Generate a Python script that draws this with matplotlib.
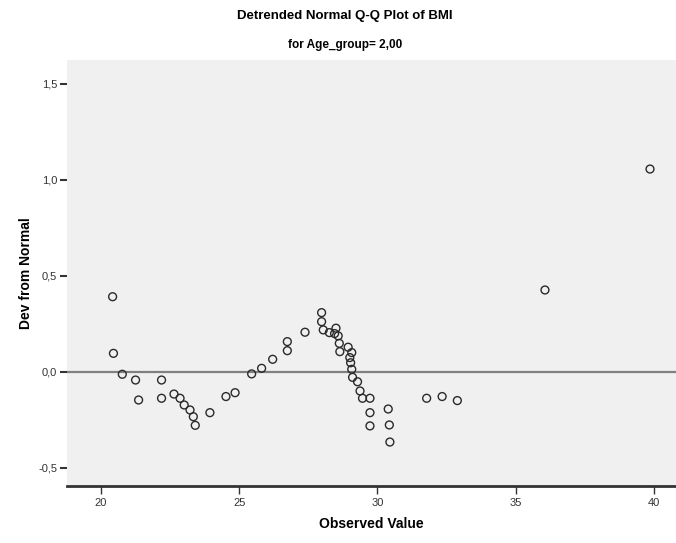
import matplotlib
matplotlib.use("Agg")
import matplotlib.pyplot as plt

plt.rcParams['font.family'] = ['Liberation Sans', 'DejaVu Sans']

# Observed BMI values and their deviation from normal
observed = [20.42, 20.45, 20.77, 21.25, 21.36, 22.19, 22.19, 22.64, 22.86, 23.01,
            23.22, 23.34, 23.41, 23.94, 24.52, 24.85, 25.45, 25.81, 26.21, 26.74,
            26.74, 27.38, 27.98, 27.98, 28.04, 28.26, 28.50, 28.58, 28.62, 28.64,
            28.94, 29.07, 29.03, 29.07, 29.10, 29.28, 29.37, 29.46, 29.73, 29.73,
            29.73, 30.39, 30.43, 30.45, 31.78, 32.34, 32.89, 36.06, 39.86,
            28.45, 29.00]
deviation = [0.392, 0.097, -0.012, -0.042, -0.146, -0.042, -0.137, -0.115, -0.137, -0.172,
             -0.198, -0.233, -0.278, -0.212, -0.128, -0.108, -0.010, 0.019, 0.066, 0.158,
             0.111, 0.207, 0.309, 0.262, 0.219, 0.205, 0.228, 0.188, 0.149, 0.106,
             0.129, 0.101, 0.048, 0.014, -0.028, -0.051, -0.099, -0.137, -0.137, -0.212,
             -0.281, -0.193, -0.276, -0.365, -0.137, -0.128, -0.149, 0.427, 1.057,
             0.200, 0.075]

x_ticks = [20, 25, 30, 35, 40]
x_tick_labels = ['20', '25', '30', '35', '40']
y_ticks = [-0.5, 0.0, 0.5, 1.0, 1.5]
y_tick_labels = ['-0,5', '0,0', '0,5', '1,0', '1,5']

fig = plt.figure(figsize=(6.76, 5.43), dpi=100)
ax = fig.add_axes([67/676, 1 - 486/543, 609/676, 426/543])
ax.set_facecolor('#f0f0f0')

ax.axhline(0, color='#808080', linewidth=1.6, zorder=1)
ax.scatter(observed, deviation, s=32, facecolors='none', edgecolors='#2a2a2a',
           linewidths=1.0, zorder=3)

ax.set_xlim(18.77, 40.8)
ax.set_ylim(-0.594, 1.625)
ax.set_xticks(x_ticks)
ax.set_xticklabels(x_tick_labels)
ax.set_yticks(y_ticks)
ax.set_yticklabels(y_tick_labels)

for side in ['top', 'right', 'left']:
    ax.spines[side].set_visible(False)
ax.spines['bottom'].set_color('#333333')
ax.spines['bottom'].set_linewidth(2.0)

ax.tick_params(axis='x', direction='out', length=6, width=1, colors='#333333',
               labelsize=8, pad=3)
ax.tick_params(axis='y', direction='out', length=5, width=1.5, colors='#333333',
               labelsize=8, pad=2)

ax.set_xlabel('Observed Value', fontsize=10, fontweight='bold', labelpad=6)
ax.set_ylabel('Dev from Normal', fontsize=10, fontweight='bold', labelpad=4)

fig.text(0.51, 1 - 16/543, 'Detrended Normal Q-Q Plot of BMI', ha='center', va='center',
         fontsize=9.5, fontweight='bold')
fig.text(0.51, 1 - 45/543, 'for Age_group= 2,00', ha='center', va='center',
         fontsize=8.5, fontweight='bold')

fig.savefig('out.png', dpi=100)
